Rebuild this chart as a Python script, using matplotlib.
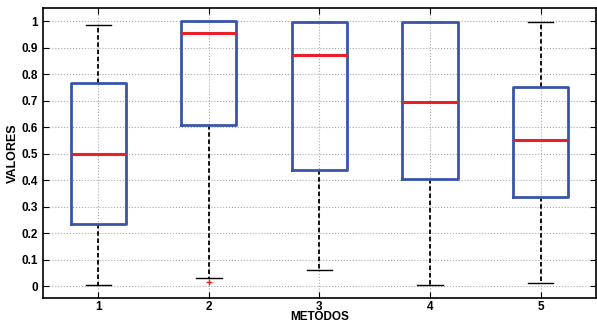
import matplotlib.pyplot as plt

plt.rcParams['font.family'] = ['Liberation Sans', 'DejaVu Sans']

metodos = ['1', '2', '3', '4', '5']
whis_lo = [0.003, 0.031, 0.059, 0.004, 0.013]
q1 = [0.235, 0.608, 0.439, 0.404, 0.336]
med = [0.500, 0.955, 0.874, 0.697, 0.550]
q3 = [0.767, 1.000, 0.999, 0.997, 0.751]
whis_hi = [0.988, 1.000, 0.999, 0.997, 0.998]
outliers = [[], [0.016], [], [], []]

stats = []
for ii, name in enumerate(metodos):
    stats.append(dict(label=name, whislo=whis_lo[ii], q1=q1[ii], med=med[ii],
                      q3=q3[ii], whishi=whis_hi[ii], fliers=outliers[ii]))

fig = plt.figure(figsize=(5.97, 3.26), dpi=100)
ax = fig.add_axes([0.072, 0.086, 0.926, 0.889])

bp = ax.bxp(stats, positions=range(1, 6), widths=0.5, showfliers=True,
            boxprops=dict(color='#3a55a8', linewidth=2.0),
            medianprops=dict(color='#e8202a', linewidth=2.2),
            whiskerprops=dict(color='black', linestyle='--', linewidth=1.3, dashes=(2.5, 1.5)),
            capprops=dict(color='black', linewidth=1.0),
            capwidths=0.23,
            flierprops=dict(marker='+', markeredgecolor='#e8202a', markersize=4, markeredgewidth=1))
# boxes drawn over the caps so a cap sitting on the box edge is hidden
for b in bp['boxes']:
    b.set_zorder(4)
for m in bp['medians']:
    m.set_zorder(5)

ax.set_xlim(0.5, 5.5)
ax.set_ylim(-0.045, 1.05)
ax.set_yticks([0, 0.1, 0.2, 0.3, 0.4, 0.5, 0.6, 0.7, 0.8, 0.9, 1])
ax.set_yticklabels(['0', '0.1', '0.2', '0.3', '0.4', '0.5', '0.6', '0.7', '0.8', '0.9', '1'])
ax.grid(True, linestyle=':', color='#aaaaaa', linewidth=0.8)
ax.set_axisbelow(True)

ax.tick_params(direction='in', top=True, right=True, length=4, width=0.8, labelsize=8.5)
ax.tick_params(axis='x', pad=2)
for lab in ax.get_xticklabels() + ax.get_yticklabels():
    lab.set_fontweight('bold')
for sp in ax.spines.values():
    sp.set_linewidth(1.2)

ax.set_ylabel('VALORES', fontsize=9, fontweight='bold', labelpad=2)
ax.set_xlabel('METODOS', fontsize=8.5, fontweight='bold', labelpad=-1)

fig.savefig('out.png', dpi=100)
